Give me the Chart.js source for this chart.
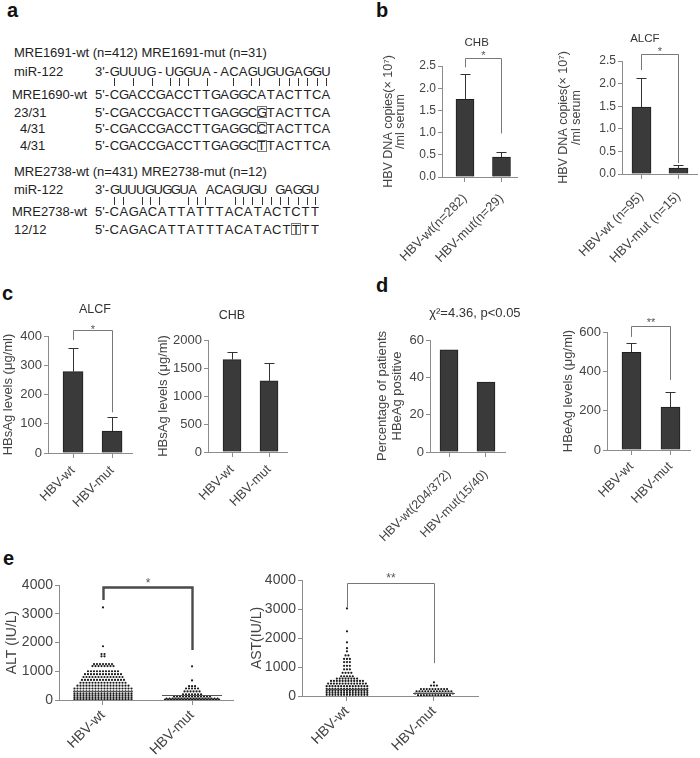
<!DOCTYPE html>
<html>
<head>
<meta charset="utf-8">
<script src="https://cdn.jsdelivr.net/npm/chart.js@4"></script>
<style>
  body { margin: 0; background: #fff; font-family: "Liberation Sans", Arial, sans-serif; color: #222; }
  #page { position: relative; width: 700px; height: 758px; overflow: hidden; }
  canvas { position: absolute; }
  .t { position: absolute; white-space: pre; line-height: 1; }
  .c { position: absolute; text-align: center; line-height: 1; }
  .box { position: absolute; border: 1px solid #777; box-sizing: border-box; }
  .bar { position: absolute; width: 1px; background: #333; }
  .lab { position: absolute; font-weight: bold; font-size: 20px; line-height: 1; color: #111; }
</style>
</head>
<body>
<div id="page"></div>
<script>
// ---------- data ----------
const groups = ['HBV-wt', 'HBV-mut'];

// b: HBV DNA copies (x10^7 /ml serum), mean and upper SEM
const chbDnaLabels = ['HBV-wt(n=282)', 'HBV-mut(n=29)'];
const chbDnaMean = [1.75, 0.45];
const chbDnaSem = [0.58, 0.12];
const alcfDnaLabels = ['HBV-wt (n=95)', 'HBV-mut (n=15)'];
const alcfDnaMean = [1.48, 0.13];
const alcfDnaSem = [0.64, 0.06];

// c: HBsAg levels (ug/ml)
const alcfHbsMean = [278, 75];
const alcfHbsSem = [82, 47];
const chbHbsMean = [1650, 1270];
const chbHbsSem = [130, 320];

// d: HBeAg
const hbeLabels = ['HBV-wt(204/372)', 'HBV-mut(15/40)'];
const hbePositivePct = [54.8, 37.5];
const hbeMean = [497, 218];
const hbeSem = [48, 79];

// e: ALT / AST dot rows (value level, number of dots in the row)
const altWtLevels = [3220, 1870, 1600, 1520, 1250, 1180, 1000, 900, 800, 700, 600, 500, 400, 300, 220, 150, 80, 20];
const altWtCounts = [1, 1, 2, 2, 7, 8, 11, 13, 14, 15, 16, 18, 20, 20, 20, 20, 20, 20];
const altMutLevels = [1170, 680, 480, 400, 300, 200, 120, 50, 10];
const altMutCounts = [1, 1, 3, 5, 6, 7, 13, 18, 19];
const altMeans = [330, 190];
const astWtLevels = [3020, 2230, 1850, 1650, 1540, 1400, 1280, 1170, 1040, 920, 800, 680, 600, 520, 430, 340, 250, 180, 110, 40];
const astWtCounts = [1, 1, 1, 1, 1, 2, 3, 3, 3, 3, 4, 5, 8, 12, 14, 15, 15, 15, 15, 15];
const astMutLevels = [470, 360, 240, 160, 85, 25];
const astMutCounts = [1, 3, 10, 13, 14, 12];
const astMeans = [230, 120];

// ---------- panel a (sequence text) ----------
const page = document.getElementById('page');

function txt(x, y, s, size) {
  const d = document.createElement('div');
  d.className = 't';
  d.style.left = x + 'px';
  d.style.top = (y - size * 0.49) + 'px';
  d.style.fontSize = size + 'px';
  d.textContent = s;
  page.appendChild(d);
}

function seq(x0, sp, y, s, boxAt) {
  for (let i = 0; i < s.length; i++) {
    const d = document.createElement('div');
    d.className = 'c';
    d.style.left = (x0 + i * sp - sp / 2) + 'px';
    d.style.width = sp + 'px';
    d.style.top = (y - 6.4) + 'px';
    d.style.fontSize = '13px';
    d.textContent = s[i];
    page.appendChild(d);
    if (i === boxAt) {
      const b = document.createElement('div');
      b.className = 'box';
      b.style.left = (x0 + i * sp - 5) + 'px';
      b.style.top = (y - 6) + 'px';
      b.style.width = '10px';
      b.style.height = '12px';
      page.appendChild(b);
    }
  }
}

function bars(xs, y) {
  xs.forEach(x => {
    const b = document.createElement('div');
    b.className = 'bar';
    b.style.left = Math.round(x) + 'px';
    b.style.top = (y - 4) + 'px';
    b.style.height = '8px';
    page.appendChild(b);
  });
}

function letter(x, y, s) {
  const d = document.createElement('div');
  d.className = 'lab';
  d.style.left = x + 'px';
  d.style.top = y + 'px';
  d.textContent = s;
  page.appendChild(d);
}

letter(7, 0, 'a');
letter(376, 0, 'b');
letter(2, 283, 'c');
letter(376, 275, 'd');
letter(3, 548, 'e');

txt(14, 52.3, 'MRE1691-wt (n=412) MRE1691-mut (n=31)', 13);
txt(14, 71.7, 'miR-122', 13);
txt(95, 71.7, "3'-", 13);
seq(114.3, 9.2, 71.7, 'GUUUG-UGGUA-ACAGUGUGAGGU', -1);
bars([114.3, 132.7, 151.7, 170, 179.3, 188.3, 207.3, 233.3, 250.7, 259.3, 279.3, 289.3, 298.3, 307.3, 316.7, 326], 81.7);
txt(12, 94, 'MRE1690-wt', 13);
txt(95, 94, "5'-", 13);
seq(114.3, 9.2, 94, 'CGACCGACCTTGAGGCATACTTCA', -1);
txt(14, 112.3, '23/31', 13);
txt(95, 112.3, "5'-", 13);
seq(114.3, 9.2, 112.3, 'CGACCGACCTTGAGGCGTACTTCA', 16);
txt(20, 128.3, '4/31', 13);
txt(95, 128.3, "5'-", 13);
seq(114.3, 9.2, 128.3, 'CGACCGACCTTGAGGCCTACTTCA', 16);
txt(20, 145.7, '4/31', 13);
txt(95, 145.7, "5'-", 13);
seq(114.3, 9.2, 145.7, 'CGACCGACCTTGAGGCTTACTTCA', 16);

txt(14, 171.7, 'MRE2738-wt (n=431) MRE2738-mut (n=12)', 13);
txt(14, 189.3, 'miR-122', 13);
txt(95, 189.3, "3'-", 13);
seq(114.3, 8.7, 189.3, 'GUUUGUGGUA ACAGUGU GAGGU', -1);
bars([114.3, 122.7, 141.7, 150, 159.3, 188.3, 196.7, 205, 235, 243.3, 252.3, 261.7, 270.7, 280, 288.3, 297.7, 306.7, 315], 200.7);
txt(12, 211, 'MRE2738-wt', 13);
txt(95, 211, "5'-", 13);
seq(114.3, 9.56, 211, 'CAGACATTATTTACATACTCTT', -1);
txt(14, 229.3, '12/12', 13);
txt(95, 229.3, "5'-", 13);
seq(114.3, 9.56, 229.3, 'CAGACATTATTTACATACTTTT', 19);

// ---------- charts ----------
Chart.defaults.font.family = '"Liberation Sans", Arial, sans-serif';
const axisColor = '#8c8c8c';
const textColor = '#444';

function extras(e) {
  return {
    id: 'extras',
    afterDatasetsDraw(chart) {
      const { ctx } = chart;
      const x = chart.scales.x, y = chart.scales.y;
      ctx.save();
      ctx.lineWidth = 1;
      ctx.strokeStyle = '#333';
      if (e.sem) {
        e.sem.forEach((s, i) => {
          const px = Math.round(x.getPixelForValue(i + 1)) + 0.5;
          const y0 = y.getPixelForValue(e.mean[i]);
          const y1 = Math.round(y.getPixelForValue(e.mean[i] + s)) + 0.5;
          ctx.beginPath();
          ctx.moveTo(px, y0); ctx.lineTo(px, y1);
          ctx.moveTo(px - 5, y1); ctx.lineTo(px + 5, y1);
          ctx.stroke();
        });
      }
      if (e.means) {
        ctx.strokeStyle = '#555';
        e.means.forEach((m, i) => {
          const px = x.getPixelForValue(i + 1);
          const py = Math.round(y.getPixelForValue(m)) + 0.5;
          ctx.beginPath();
          ctx.moveTo(px - e.meanHalf, py); ctx.lineTo(px + e.meanHalf, py);
          ctx.stroke();
        });
      }
      if (e.bracket) {
        const b = e.bracket;
        const x1 = Math.round(x.getPixelForValue(1)) + 0.5;
        const x2 = Math.round(x.getPixelForValue(2)) + 0.5;
        const yt = Math.round(y.getPixelForValue(b.top)) + 0.5;
        ctx.strokeStyle = b.color || '#777';
        ctx.lineWidth = b.width || 1;
        ctx.beginPath();
        ctx.moveTo(x1, y.getPixelForValue(b.left));
        ctx.lineTo(x1, yt);
        ctx.lineTo(x2, yt);
        ctx.lineTo(x2, y.getPixelForValue(b.right));
        ctx.stroke();
        ctx.fillStyle = '#555';
        ctx.font = (b.size || 11) + 'px "Liberation Sans", Arial, sans-serif';
        ctx.textAlign = 'center';
        ctx.textBaseline = 'alphabetic';
        ctx.fillText(b.label, (x1 + x2) / 2, yt - (b.gap || 0));
      }
      if (e.title) {
        const t = e.title;
        ctx.fillStyle = '#333';
        ctx.font = t.size + 'px "Liberation Sans", Arial, sans-serif';
        ctx.textAlign = 'center';
        ctx.textBaseline = 'middle';
        ctx.fillText(t.text, x.getPixelForValue(t.x), y.getPixelForValue(t.y));
      }
      ctx.restore();
    }
  };
}

function makeChart(c) {
  const PT = 45, PR = c.pr || 4;
  const tlh = c.titleLh || 1.15;
  const cl = Math.round(c.titleX - c.titleSize * tlh / 2);
  const ct = Math.round(c.box.t) - PT;
  const yw = Math.round(c.box.l) - cl;
  const w = yw + Math.round(c.box.r - c.box.l) + PR;
  const h = PT + Math.round(c.box.b - c.box.t) + c.xh;
  const cv = document.createElement('canvas');
  cv.width = w; cv.height = h;
  cv.style.left = cl + 'px'; cv.style.top = ct + 'px';
  cv.style.width = w + 'px'; cv.style.height = h + 'px';
  page.appendChild(cv);
  new Chart(cv, {
    type: c.type,
    data: { datasets: c.datasets },
    options: {
      responsive: false,
      animation: false,
      layout: { padding: { top: PT, right: PR, left: 0, bottom: 0 } },
      plugins: { legend: { display: false }, tooltip: { enabled: false } },
      scales: {
        x: {
          type: 'linear', min: c.xMin, max: c.xMax, offset: false,
          afterBuildTicks: s => { s.ticks = c.labels.map((_, i) => ({ value: i + 1 })); },
          afterFit: s => { s.height = c.xh; s.paddingLeft = 0; s.paddingRight = 0; },
          grid: { drawOnChartArea: false, tickLength: 5, color: axisColor, offset: false },
          border: { color: axisColor },
          ticks: {
            autoSkip: false, minRotation: 45, maxRotation: 45, padding: c.labelPad || 1,
            color: textColor, font: { size: c.labelSize },
            callback: (v, i) => c.labels[i]
          }
        },
        y: {
          min: 0, max: c.yMax,
          afterFit: s => { s.width = yw; s.paddingTop = 0; s.paddingBottom = 0; },
          grid: { drawOnChartArea: false, tickLength: 4, color: axisColor },
          border: { color: axisColor },
          ticks: {
            stepSize: c.yStep, padding: 2, color: textColor, font: { size: c.tickSize },
            callback: v => v.toFixed(c.yDec || 0)
          },
          title: {
            display: true, text: c.yTitle, color: textColor, padding: 0,
            font: { size: c.titleSize, lineHeight: tlh }
          }
        }
      }
    },
    plugins: [extras(c.extras || {})]
  });
}

function barSet(values, thickness) {
  return [{
    data: values.map((v, i) => ({ x: i + 1, y: v })),
    backgroundColor: '#3a3a3a',
    borderColor: '#1e1e1e',
    borderWidth: 1,
    barThickness: thickness
  }];
}

function swarm(levels, counts, cat, step) {
  const pts = [];
  levels.forEach((v, i) => {
    const n = counts[i];
    for (let k = 0; k < n; k++) pts.push({ x: cat + (k - (n - 1) / 2) * step, y: v });
  });
  return pts;
}

function dotSet(pts) {
  return { data: pts, pointRadius: 1.1, pointBackgroundColor: '#1a1a1a', pointBorderWidth: 0 };
}

// b - CHB
makeChart({
  type: 'bar', box: { l: 442, t: 66, r: 517, b: 177 }, xMin: 0.370, xMax: 2.425,
  yMax: 2.5, yStep: 0.5, yDec: 1, tickSize: 12,
  yTitle: ['HBV DNA copies(× 10⁷)', '/ml serum'], titleX: 388, titleSize: 12.5, titleLh: 1.0,
  labels: chbDnaLabels, labelSize: 13, labelPad: 9, xh: 100,
  datasets: barSet(chbDnaMean, 18),
  extras: {
    mean: chbDnaMean, sem: chbDnaSem,
    bracket: { top: 2.67, left: 2.47, right: 0.98, label: '*', size: 11, gap: 0 },
    title: { text: 'CHB', x: 1.32, y: 3.03, size: 11.5 }
  }
});

// b - ALCF
makeChart({
  type: 'bar', box: { l: 622, t: 61, r: 697, b: 174 }, xMin: 0.473, xMax: 2.5,
  yMax: 2.5, yStep: 0.5, yDec: 1, tickSize: 12,
  yTitle: ['HBV DNA copies(× 10⁷)', '/ml serum'], titleX: 564, titleSize: 12.5, titleLh: 1.05,
  labels: alcfDnaLabels, labelSize: 13, labelPad: 10, xh: 100,
  datasets: barSet(alcfDnaMean, 19),
  extras: {
    mean: alcfDnaMean, sem: alcfDnaSem,
    bracket: { top: 2.66, left: 2.30, right: 0.24, label: '*', size: 11, gap: 0 },
    title: { text: 'ALCF', x: 1.09, y: 2.99, size: 11.5 }
  }
});

// c - ALCF HBsAg
makeChart({
  type: 'bar', box: { l: 48, t: 336, r: 132, b: 453 }, xMin: 0.359, xMax: 2.51,
  yMax: 400, yStep: 100, tickSize: 13,
  yTitle: 'HBsAg levels (μg/ml)', titleX: 8.5, titleSize: 13,
  labels: groups, labelSize: 13, labelPad: 5, xh: 70,
  datasets: barSet(alcfHbsMean, 20),
  extras: {
    mean: alcfHbsMean, sem: alcfHbsSem,
    bracket: { top: 420.6, left: 386, right: 139, label: '*', size: 11, gap: -2 },
    title: { text: 'ALCF', x: 1.56, y: 489, size: 12.5 }
  }
});

// c - CHB HBsAg
makeChart({
  type: 'bar', box: { l: 208, t: 340, r: 287, b: 452 }, xMin: 0.351, xMax: 2.486,
  yMax: 2000, yStep: 500, tickSize: 13,
  yTitle: 'HBsAg levels (μg/ml)', titleX: 163, titleSize: 13,
  labels: groups, labelSize: 13, labelPad: 5, xh: 70,
  datasets: barSet(chbHbsMean, 18),
  extras: {
    mean: chbHbsMean, sem: chbHbsSem,
    title: { text: 'CHB', x: 1.0, y: 2430, size: 12.5 }
  }
});

// d - HBeAg positive percentage
makeChart({
  type: 'bar', box: { l: 430, t: 340, r: 505, b: 452 }, xMin: 0.486, xMax: 2.514, pr: 40,
  yMax: 60, yStep: 20, tickSize: 13,
  yTitle: ['Percentage of patients', 'HBeAg positive'], titleX: 382, titleSize: 13,
  labels: hbeLabels, labelSize: 12.5, labelPad: 10, xh: 100,
  datasets: barSet(hbePositivePct, 18),
  extras: {
    title: { text: 'χ²=4.36, p<0.05', x: 1.70, y: 74, size: 13 }
  }
});

// d - HBeAg levels
makeChart({
  type: 'bar', box: { l: 607, t: 332, r: 690, b: 450 }, xMin: 0.372, xMax: 2.5,
  yMax: 600, yStep: 200, tickSize: 13,
  yTitle: 'HBeAg levels (μg/ml)', titleX: 568, titleSize: 13,
  labels: groups, labelSize: 13, labelPad: 4, xh: 70,
  datasets: barSet(hbeMean, 19),
  extras: {
    mean: hbeMean, sem: hbeSem,
    bracket: { top: 630, left: 575, right: 356, label: '**', size: 11, gap: 1 }
  }
});

// e - ALT
makeChart({
  type: 'scatter', box: { l: 59, t: 585, r: 233, b: 700 }, xMin: 0.506, xMax: 2.46,
  yMax: 4000, yStep: 1000, tickSize: 14,
  yTitle: 'ALT (IU/L)', titleX: 12, titleSize: 14,
  labels: groups, labelSize: 14, labelPad: 2, xh: 58,
  datasets: [
    dotSet(swarm(altWtLevels, altWtCounts, 1, 3.0 / 89)),
    dotSet(swarm(altMutLevels, altMutCounts, 2, 3.0 / 89))
  ],
  extras: {
    means: altMeans, meanHalf: 30,
    bracket: { top: 3930, left: 3478, right: 1739, label: '*', size: 12, gap: 1, width: 2.4, color: '#4a4a4a' }
  }
});

// e - AST
makeChart({
  type: 'scatter', box: { l: 302, t: 580, r: 478, b: 696 }, xMin: 0.483, xMax: 2.506,
  yMax: 4000, yStep: 1000, tickSize: 14,
  yTitle: 'AST(IU/L)', titleX: 257, titleSize: 14,
  labels: groups, labelSize: 14, labelPad: 2, xh: 62,
  datasets: [
    dotSet(swarm(astWtLevels, astWtCounts, 1, 2.9 / 87)),
    dotSet(swarm(astMutLevels, astMutCounts, 2, 2.9 / 87))
  ],
  extras: {
    means: astMeans, meanHalf: 21,
    bracket: { top: 3896, left: 3066, right: 1131, label: '**', size: 12, gap: 2 }
  }
});
</script>
</body>
</html>
